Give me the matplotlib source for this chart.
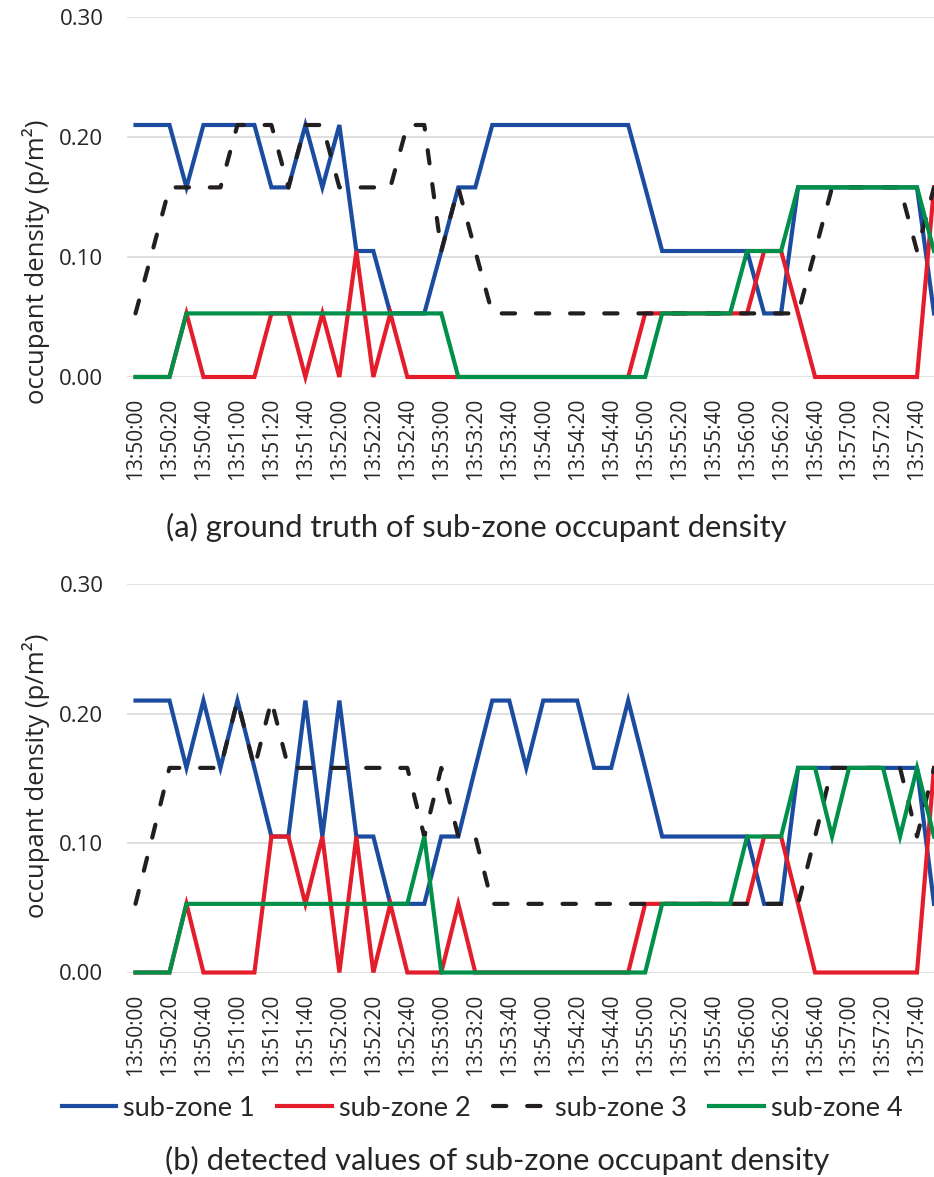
import pandas as pd
import matplotlib.pyplot as plt

# categorías: una muestra cada 10 s desde 13:50:00
times = pd.date_range("2020-01-01 13:50:00", periods=48, freq="10s").strftime("%H:%M:%S").tolist()

# (a) valores reales
gt_zone1 = [0.21, 0.21, 0.21, 0.158, 0.21, 0.21, 0.21, 0.21, 0.158, 0.158, 0.21, 0.158,
            0.21, 0.105, 0.105, 0.053, 0.053, 0.053, 0.105, 0.158, 0.158, 0.21, 0.21, 0.21,
            0.21, 0.21, 0.21, 0.21, 0.21, 0.21, 0.158, 0.105, 0.105, 0.105, 0.105, 0.105,
            0.105, 0.053, 0.053, 0.158, 0.158, 0.158, 0.158, 0.158, 0.158, 0.158, 0.158, 0.053]
gt_zone2 = [0, 0, 0, 0.053, 0, 0, 0, 0, 0.053, 0.053, 0, 0.053,
            0, 0.105, 0, 0.053, 0, 0, 0, 0, 0, 0, 0, 0,
            0, 0, 0, 0, 0, 0, 0.053, 0.053, 0.053, 0.053, 0.053, 0.053,
            0.053, 0.105, 0.105, 0.053, 0, 0, 0, 0, 0, 0, 0, 0.158]
gt_zone3 = [0.053, 0.105, 0.158, 0.158, 0.158, 0.158, 0.21, 0.21, 0.21, 0.158, 0.21, 0.21,
            0.158, 0.158, 0.158, 0.158, 0.21, 0.21, 0.105, 0.158, 0.105, 0.053, 0.053, 0.053,
            0.053, 0.053, 0.053, 0.053, 0.053, 0.053, 0.053, 0.053, 0.053, 0.053, 0.053, 0.053,
            0.053, 0.053, 0.053, 0.053, 0.105, 0.158, 0.158, 0.158, 0.158, 0.158, 0.105, 0.158]
gt_zone4 = [0, 0, 0, 0.053, 0.053, 0.053, 0.053, 0.053, 0.053, 0.053, 0.053, 0.053,
            0.053, 0.053, 0.053, 0.053, 0.053, 0.053, 0.053, 0, 0, 0, 0, 0,
            0, 0, 0, 0, 0, 0, 0, 0.053, 0.053, 0.053, 0.053, 0.053,
            0.105, 0.105, 0.105, 0.158, 0.158, 0.158, 0.158, 0.158, 0.158, 0.158, 0.158, 0.105]

# (b) valores detectados
det_zone1 = [0.21, 0.21, 0.21, 0.158, 0.21, 0.158, 0.21, 0.158, 0.105, 0.105, 0.21, 0.105,
             0.21, 0.105, 0.105, 0.053, 0.053, 0.053, 0.105, 0.105, 0.158, 0.21, 0.21, 0.158,
             0.21, 0.21, 0.21, 0.158, 0.158, 0.21, 0.158, 0.105, 0.105, 0.105, 0.105, 0.105,
             0.105, 0.053, 0.053, 0.158, 0.158, 0.158, 0.158, 0.158, 0.158, 0.158, 0.158, 0.053]
det_zone2 = [0, 0, 0, 0.053, 0, 0, 0, 0, 0.105, 0.105, 0.053, 0.105,
             0, 0.105, 0, 0.053, 0, 0, 0, 0.053, 0, 0, 0, 0,
             0, 0, 0, 0, 0, 0, 0.053, 0.053, 0.053, 0.053, 0.053, 0.053,
             0.053, 0.105, 0.105, 0.053, 0, 0, 0, 0, 0, 0, 0, 0.158]
det_zone3 = [0.053, 0.105, 0.158, 0.158, 0.158, 0.158, 0.21, 0.158, 0.21, 0.158, 0.158, 0.158,
             0.158, 0.158, 0.158, 0.158, 0.158, 0.105, 0.158, 0.105, 0.105, 0.053, 0.053, 0.053,
             0.053, 0.053, 0.053, 0.053, 0.053, 0.053, 0.053, 0.053, 0.053, 0.053, 0.053, 0.053,
             0.053, 0.053, 0.053, 0.053, 0.105, 0.158, 0.158, 0.158, 0.158, 0.158, 0.105, 0.158]
det_zone4 = [0, 0, 0, 0.053, 0.053, 0.053, 0.053, 0.053, 0.053, 0.053, 0.053, 0.053,
             0.053, 0.053, 0.053, 0.053, 0.053, 0.105, 0, 0, 0, 0, 0, 0,
             0, 0, 0, 0, 0, 0, 0, 0.053, 0.053, 0.053, 0.053, 0.053,
             0.105, 0.105, 0.105, 0.158, 0.158, 0.105, 0.158, 0.158, 0.158, 0.105, 0.158, 0.105]

labels = ["sub-zone 1", "sub-zone 2", "sub-zone 3", "sub-zone 4"]
colors = ["#1c4ca0", "#e31d2b", "#231f20", "#00904a"]
txt = "#262626"

fig = plt.figure(figsize=(9.34, 11.77), dpi=100)
ax_a = fig.add_axes([127 / 934, 800 / 1177, 1 - 127 / 934, 360 / 1177])
ax_b = fig.add_axes([127 / 934, 204.5 / 1177, 1 - 127 / 934, 388.5 / 1177])

x = list(range(len(times)))
for ax, series in [(ax_a, [gt_zone1, gt_zone2, gt_zone3, gt_zone4]),
                   (ax_b, [det_zone1, det_zone2, det_zone3, det_zone4])]:
    for k, (vals, lab, col) in enumerate(zip(series, labels, colors)):
        if k == 2:
            ax.plot(x, vals, color=col, lw=3.0, label=lab, dashes=(3.2, 5.0),
                    dash_capstyle="round", clip_on=False)
        else:
            ax.plot(x, vals, color=col, lw=3.0, label=lab, clip_on=False,
                    solid_joinstyle="miter")
    ax.set_xlim(-0.5, len(times) - 1)
    ax.set_ylim(0, 0.30)
    ax.set_yticks([0, 0.1, 0.2, 0.3])
    ax.set_yticklabels(["0.00", "0.10", "0.20", "0.30"], fontname="Open Sans",
                       fontsize=16, color=txt)
    ax.set_xticks(x[::2])
    ax.set_xticklabels(times[::2], rotation=90, fontname="Open Sans", fontsize=15,
                       color=txt)
    ax.tick_params(axis="both", length=0)
    ax.tick_params(axis="y", pad=17)
    ax.tick_params(axis="x", pad=15)
    ax.grid(axis="y", color="#d9d9d9", lw=1.2)
    ax.set_axisbelow(True)
    for s in ax.spines.values():
        s.set_visible(False)

fig.text(36 / 934, 1 - 262 / 1177, "occupant density (p/m²)", rotation=90, ha="center",
         va="center", fontname="Open Sans", fontsize=18.5, color=txt)
fig.text(36 / 934, 1 - 776 / 1177, "occupant density (p/m²)", rotation=90, ha="center",
         va="center", fontname="Open Sans", fontsize=18.5, color=txt)

fig.text(476.5 / 934, 1 - 527 / 1177, "(a) ground truth of sub-zone occupant density",
         ha="center", va="center", fontname="Lato", fontsize=22.3, color=txt)
fig.text(497.5 / 934, 1 - 1160 / 1177, "(b) detected values of sub-zone occupant density",
         ha="center", va="center", fontname="Lato", fontsize=22.3, color=txt)

handles, labs = ax_b.get_legend_handles_labels()
fig.legend(handles, labs, loc="center", bbox_to_anchor=(482 / 934, 1 - 1108 / 1177),
           ncol=4, frameon=False, handlelength=2.0, handletextpad=0.26, columnspacing=0.85,
           prop={"family": "Lato", "size": 19.5}, labelcolor=txt)

plt.savefig("out.png", dpi=100)
